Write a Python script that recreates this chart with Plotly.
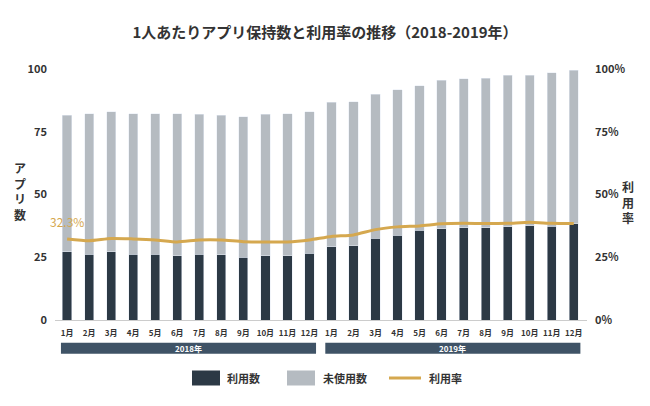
import plotly.graph_objects as go

# ---- data ----
month_labels = ["1月", "2月", "3月", "4月", "5月", "6月", "7月", "8月", "9月", "10月", "11月", "12月"]
years = ["2018年", "2019年"]

used = [27.2, 26.2, 27.2, 26.2, 26.2, 25.5, 26.2, 25.9, 25.1, 25.5, 25.5, 26.6,
        29.1, 29.5, 32.5, 33.7, 35.7, 36.4, 36.8, 36.8, 37.1, 37.5, 37.3, 38.4]
unused = [54.4, 56.0, 55.8, 56.0, 56.0, 56.7, 55.8, 55.7, 55.9, 56.5, 56.7, 56.4,
          57.7, 57.5, 57.4, 58.0, 57.7, 59.1, 59.3, 59.6, 60.4, 60.0, 61.2, 61.1]
rate = [32.3, 31.6, 32.5, 32.3, 31.9, 31.1, 31.9, 31.9, 31.2, 31.1, 31.1, 31.9,
        33.3, 33.9, 36.0, 37.1, 37.5, 38.3, 38.5, 38.4, 38.5, 38.9, 38.5, 38.4]

y_ticks = [0, 25, 50, 75, 100]
y2_ticks = [0, 25, 50, 75, 100]
y2_ticklabels = ["0%", "25%", "50%", "75%", "100%"]

series_names = ["利用数", "未使用数", "利用率"]
left_title = "アプリ数"
right_title = "利用率"
title = "1人あたりアプリ保持数と利用率の推移（2018-2019年）"

# ---- styles ----
FONT = "Noto Sans CJK JP"
C_USED = "#2c3945"
C_UNUSED = "#b5bbc1"
C_RATE = "#d5a84f"
C_BAND = "#3f5366"
C_TEXT = "#333333"

n = len(used)
xs = list(range(n))
ticktext = month_labels * len(years)

fig = go.Figure()
fig.add_trace(go.Bar(x=xs, y=used, name=series_names[0], marker_color=C_USED,
                     width=0.42, showlegend=False))
fig.add_trace(go.Bar(x=xs, y=unused, name=series_names[1], marker_color=C_UNUSED,
                     width=0.42, showlegend=False))
fig.add_trace(go.Scatter(x=xs, y=rate, name=series_names[2], yaxis="y2", mode="lines",
                         line=dict(color=C_RATE, width=3, shape="spline", smoothing=0.6),
                         showlegend=False))

fig.update_layout(
    width=650, height=406,
    margin=dict(l=55, r=63, t=69, b=86),
    paper_bgcolor="white", plot_bgcolor="white",
    barmode="stack",
    font=dict(family=FONT, color=C_TEXT),
    title=dict(text=title, x=0.5, xref="container", xanchor="center",
               y=1 - 33 / 406, yref="container", yanchor="middle",
               font=dict(family=FONT, size=15, color=C_TEXT, weight="bold")),
    xaxis=dict(range=[-0.55, 23.6], tickmode="array", tickvals=xs, ticktext=ticktext,
               tickfont=dict(size=8, color=C_TEXT, weight="bold"),
               showline=True, linecolor="#cccccc", linewidth=1,
               showgrid=False, zeroline=False, ticks="", ticklabelstandoff=5,
               fixedrange=True),
    yaxis=dict(range=[0, 100], tickmode="array", tickvals=y_ticks,
               tickfont=dict(size=11, color=C_TEXT, weight="bold"),
               showgrid=False, zeroline=False, showline=False, ticks="",
               ticklabelstandoff=7),
    yaxis2=dict(range=[0, 100], tickmode="array", tickvals=y2_ticks, ticktext=y2_ticklabels,
                overlaying="y", side="right",
                tickfont=dict(size=11, color=C_TEXT, weight="bold"),
                showgrid=False, zeroline=False, showline=False, ticks="",
                ticklabelstandoff=7),
)

# pixel -> paper conversion helper for decorations
pl, pr, pt, pb = 55, 650 - 63, 69, 406 - 86
def px2paper(px, py):
    return (px - pl) / (pr - pl), (pb - py) / (pb - pt)

shapes = []
annotations = []

# year bands under month labels
for k, yr in enumerate(years):
    start = 12 * k
    end = 12 * k + 11
    shapes.append(dict(type="rect", xref="x", yref="paper",
                       x0=start - 0.28, x1=end + 0.3, y0=-0.134, y1=-0.091,
                       fillcolor=C_BAND, line=dict(width=0), layer="above"))
    annotations.append(dict(x=(start + end) / 2, y=-0.1125, xref="x", yref="paper",
                            text=yr, showarrow=False,
                            font=dict(size=8, color="white", family=FONT, weight="bold"),
                            xanchor="center", yanchor="middle"))

# first-point label
annotations.append(dict(x=xs[0], y=rate[0], xref="x", yref="y2", yshift=17,
                        text=f"{rate[0]}%", showarrow=False,
                        font=dict(size=12, color=C_RATE, family=FONT),
                        xanchor="center", yanchor="middle"))

# vertical axis titles (stacked characters)
lx, ly = px2paper(20, 191)
annotations.append(dict(x=lx, y=ly, xref="paper", yref="paper",
                        text="<br>".join(left_title), showarrow=False,
                        xanchor="center", yanchor="middle",
                        font=dict(size=12, color=C_TEXT, family=FONT, weight="bold")))
rx, ry = px2paper(628, 202)
annotations.append(dict(x=rx, y=ry, xref="paper", yref="paper",
                        text="<br>".join(right_title), showarrow=False,
                        xanchor="center", yanchor="middle",
                        font=dict(size=12, color=C_TEXT, family=FONT, weight="bold")))

# custom legend
leg_y = 378
colors = [C_USED, C_UNUSED]
rect_x = [(192, 220), (287, 315)]
text_x = [225, 321]
for i in range(2):
    x0, _ = px2paper(rect_x[i][0], 0)
    x1, _ = px2paper(rect_x[i][1], 0)
    _, y0 = px2paper(0, leg_y - 7.5)
    _, y1 = px2paper(0, leg_y + 7.5)
    shapes.append(dict(type="rect", xref="paper", yref="paper", x0=x0, x1=x1, y0=y0, y1=y1,
                       fillcolor=colors[i], line=dict(width=0)))
    tx, ty = px2paper(text_x[i], leg_y)
    annotations.append(dict(x=tx, y=ty, xref="paper", yref="paper", text=series_names[i],
                            showarrow=False, xanchor="left", yanchor="middle",
                            font=dict(size=11, color=C_TEXT, family=FONT, weight="bold")))
lx0, lly = px2paper(389, leg_y)
lx1, _ = px2paper(421, leg_y)
shapes.append(dict(type="line", xref="paper", yref="paper", x0=lx0, x1=lx1, y0=lly, y1=lly,
                   line=dict(color=C_RATE, width=3)))
tx, ty = px2paper(427, leg_y)
annotations.append(dict(x=tx, y=ty, xref="paper", yref="paper", text=series_names[2],
                        showarrow=False, xanchor="left", yanchor="middle",
                        font=dict(size=11, color=C_TEXT, family=FONT, weight="bold")))

fig.update_layout(shapes=shapes, annotations=annotations)
fig.write_html("out.html")
